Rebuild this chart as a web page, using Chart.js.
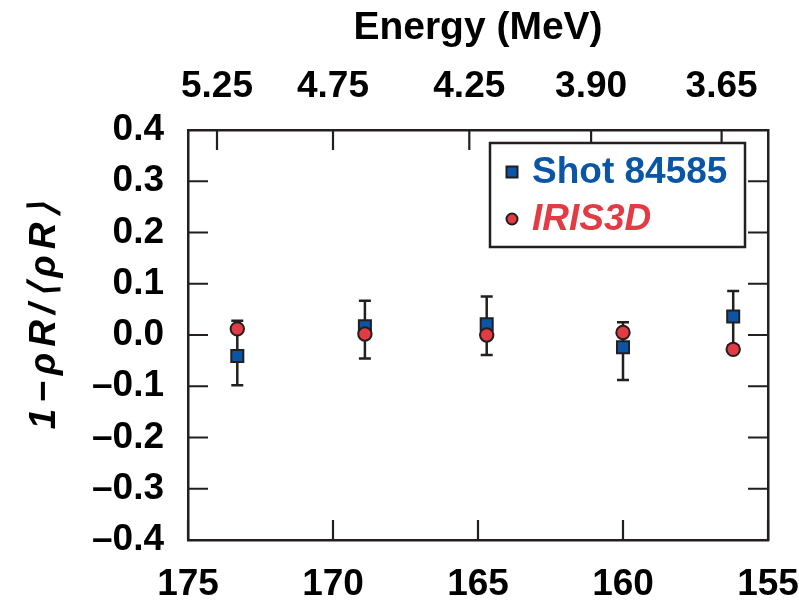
<!DOCTYPE html>
<html><head><meta charset="utf-8">
<script src="https://cdn.jsdelivr.net/npm/chart.js@4/dist/chart.umd.min.js"></script>
<style>html,body{margin:0;padding:0;background:#fff}canvas{display:block}</style>
</head><body>
<canvas id="c" width="799" height="603"></canvas>
<script>
// ---- data ----
const xValues      = [173.3, 168.9, 164.7, 160.0, 156.2];
const shotValues   = [-0.041, 0.017, 0.021, -0.024, 0.036];
const shotErrHigh  = [0.028, 0.067, 0.075, 0.025, 0.086];
const shotErrLow   = [-0.098, -0.046, -0.039, -0.088, -0.020];
const irisValues   = [0.012, 0.002, 0.000, 0.005, -0.028];
const bottomTicks  = [175, 170, 165, 160, 155];
const yTicks       = [0.4, 0.3, 0.2, 0.1, 0.0, -0.1, -0.2, -0.3, -0.4];
const energyTickPositions = [174.0, 170.0, 165.3, 161.1, 156.6];
const energyTickLabels    = ['5.25', '4.75', '4.25', '3.90', '3.65'];
const seriesNames  = ['Shot 84585', 'IRIS3D'];
const yAxisTitle   = '1\u2212\u03C1R/\u27E8\u03C1R\u27E9';
const topAxisTitle = 'Energy (MeV)';

const FONT = '"Liberation Sans", Arial, Helvetica, sans-serif';
const INK = '#231f20';
const BLUE = '#0a55a5';
const RED = '#e23b43';

const shotData = xValues.map((x, i) => ({x, y: shotValues[i], yMin: shotErrLow[i], yMax: shotErrHigh[i]}));
const irisData = xValues.map((x, i) => ({x, y: irisValues[i]}));

const zeroPad = s => { s.paddingLeft = 0; s.paddingRight = 0; s.paddingTop = 0; s.paddingBottom = 0; };

const errorBars = {
  id: 'errorBars',
  beforeDatasetsDraw(chart) {
    const {ctx} = chart;
    const xs = chart.scales.x, ys = chart.scales.y;
    ctx.save();
    ctx.strokeStyle = INK; ctx.lineWidth = 2.5;
    chart.data.datasets.forEach(ds => {
      ds.data.forEach(p => {
        if (p.yMin === undefined) return;
        const px = xs.getPixelForValue(p.x);
        const y1 = ys.getPixelForValue(p.yMax), y2 = ys.getPixelForValue(p.yMin);
        ctx.beginPath();
        ctx.moveTo(px, y1); ctx.lineTo(px, y2);
        ctx.moveTo(px - 6, y1); ctx.lineTo(px + 6, y1);
        ctx.moveTo(px - 6, y2); ctx.lineTo(px + 6, y2);
        ctx.stroke();
      });
    });
    ctx.restore();
  }
};

const inwardTicks = {
  id: 'inwardTicks',
  beforeDatasetsDraw(chart) {
    const {ctx, chartArea: a} = chart;
    const L = 20;
    ctx.save();
    ctx.strokeStyle = INK; ctx.lineWidth = 2.2;
    ctx.beginPath();
    chart.scales.x.ticks.forEach(t => {
      const px = chart.scales.x.getPixelForValue(t.value);
      ctx.moveTo(px, a.bottom); ctx.lineTo(px, a.bottom - L);
    });
    chart.scales.x2.ticks.forEach(t => {
      const px = chart.scales.x2.getPixelForValue(t.value);
      ctx.moveTo(px, a.top); ctx.lineTo(px, a.top + L);
    });
    chart.scales.y.ticks.forEach(t => {
      const py = chart.scales.y.getPixelForValue(t.value);
      ctx.moveTo(a.left, py); ctx.lineTo(a.left + L, py);
      ctx.moveTo(a.right, py); ctx.lineTo(a.right - L, py);
    });
    ctx.stroke();
    ctx.restore();
  }
};

const yTitle = {
  id: 'yTitle',
  afterDraw(chart) {
    const {ctx, chartArea: a} = chart;
    ctx.save();
    ctx.translate(45, a.top + (a.bottom - a.top) / 2 - 22);
    ctx.rotate(-Math.PI / 2);
    ctx.font = 'italic bold 37px ' + FONT;
    if ('letterSpacing' in ctx) ctx.letterSpacing = '6px';
    ctx.fillStyle = '#000';
    ctx.textAlign = 'center'; ctx.textBaseline = 'middle';
    ctx.fillText(yAxisTitle, 0, 0);
    ctx.restore();
  }
};

const legendBox = {
  id: 'legendBox',
  afterDraw(chart) {
    const {ctx, chartArea: a} = chart;
    const W = 255, H = 104;
    const L = a.right - 23 - W, T = a.top + 13;
    ctx.save();
    ctx.fillStyle = '#fff'; ctx.fillRect(L, T, W, H);
    ctx.lineWidth = 2.5; ctx.strokeStyle = INK; ctx.strokeRect(L, T, W, H);
    const items = [chart.data.datasets[0], chart.data.datasets[1]];
    items.forEach((ds, i) => {
      const cy = T + 29 + i * 47;
      const cx = L + 22;
      ctx.lineWidth = 2; ctx.strokeStyle = INK; ctx.fillStyle = ds.backgroundColor;
      ctx.beginPath();
      if (ds.pointStyle === 'rect') ctx.rect(cx - 5.5, cy - 5.5, 11, 11);
      else ctx.arc(cx, cy, 5.5, 0, Math.PI * 2);
      ctx.fill(); ctx.stroke();
      ctx.fillStyle = ds.backgroundColor;
      ctx.font = (i === 1 ? 'italic ' : '') + 'bold 37px ' + FONT;
      ctx.textBaseline = 'alphabetic'; ctx.textAlign = 'left';
      ctx.fillText(ds.label, L + 42, cy + 11);
    });
    ctx.restore();
  }
};

const tickFont = {family: FONT, size: 37, weight: 'bold'};

new Chart(document.getElementById('c'), {
  type: 'scatter',
  data: {
    datasets: [
      {label: seriesNames[0], data: shotData, pointStyle: 'rect', pointRadius: 8.5,
       backgroundColor: BLUE, borderColor: INK, borderWidth: 2, order: 1},
      {label: seriesNames[1], data: irisData, pointStyle: 'circle', pointRadius: 6.7,
       backgroundColor: RED, borderColor: INK, borderWidth: 2, order: 0}
    ]
  },
  options: {
    responsive: false, animation: false,
    layout: {padding: 0},
    plugins: {legend: {display: false}, tooltip: {enabled: false}},
    scales: {
      x: {
        type: 'linear', position: 'bottom', min: 155, max: 175, reverse: true,
        afterBuildTicks: s => { s.ticks = bottomTicks.map(v => ({value: v})); },
        ticks: {font: tickFont, color: '#000', padding: 23, maxRotation: 0, autoSkip: false},
        grid: {display: false, drawTicks: false},
        border: {display: true, color: INK, width: 2.5},
        afterFit: s => { s.height = 63; zeroPad(s); }
      },
      x2: {
        type: 'linear', position: 'top', min: 155, max: 175, reverse: true,
        afterBuildTicks: s => { s.ticks = energyTickPositions.map(v => ({value: v})); },
        ticks: {font: tickFont, color: '#000', padding: 21, maxRotation: 0, autoSkip: false,
                callback: (v, i) => energyTickLabels[i]},
        grid: {display: false, drawTicks: false},
        border: {display: true, color: INK, width: 2.5},
        title: {display: true, text: topAxisTitle, color: '#000',
                font: {family: FONT, size: 39, weight: 'bold'}, padding: {top: 5, bottom: 0}},
        afterFit: s => { s.height = 130; zeroPad(s); }
      },
      y: {
        type: 'linear', position: 'left', min: -0.4, max: 0.4,
        afterBuildTicks: s => { s.ticks = yTicks.map(v => ({value: v})); },
        ticks: {font: tickFont, color: '#000', padding: 24, autoSkip: false,
                callback: v => { const r = Math.round(v * 10) / 10; return (r < 0 ? '\u2013' : '') + Math.abs(r).toFixed(1); }},
        grid: {display: false, drawTicks: false},
        border: {display: true, color: INK, width: 2.5},
        afterFit: s => { s.width = 188; zeroPad(s); }
      },
      y2: {
        type: 'linear', position: 'right', min: -0.4, max: 0.4,
        ticks: {display: false},
        grid: {display: false, drawTicks: false},
        border: {display: true, color: INK, width: 2.5},
        afterFit: s => { s.width = 31; zeroPad(s); }
      }
    }
  },
  plugins: [errorBars, inwardTicks, yTitle, legendBox]
});
</script>
</body></html>
